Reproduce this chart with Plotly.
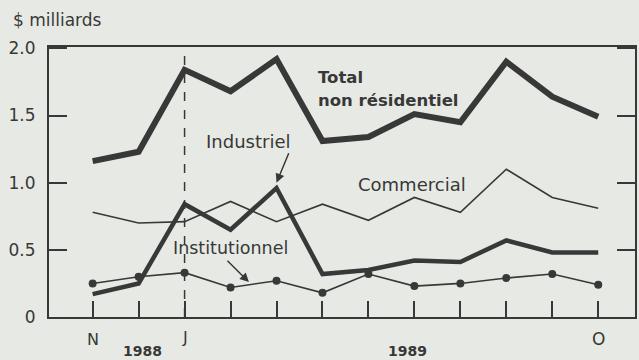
import plotly.graph_objects as go

# Monthly values, November 1988 to October 1989 ($ billions)
months = ["N", "D", "J", "F", "M", "A", "M", "J", "J", "A", "S", "O"]
total_non_res = [1.16, 1.23, 1.84, 1.68, 1.92, 1.31, 1.34, 1.51, 1.45, 1.90, 1.64, 1.49]
industriel = [0.17, 0.25, 0.84, 0.65, 0.96, 0.32, 0.35, 0.42, 0.41, 0.57, 0.48, 0.48]
commercial = [0.78, 0.70, 0.71, 0.86, 0.71, 0.84, 0.72, 0.89, 0.78, 1.10, 0.89, 0.81]
institutionnel = [0.25, 0.30, 0.33, 0.22, 0.27, 0.18, 0.32, 0.23, 0.25, 0.29, 0.32, 0.24]
y_ticks = [0, 0.5, 1.0, 1.5, 2.0]
y_tick_text = ["0", "0.5", "1.0", "1.5", "2.0"]

x = list(range(len(months)))
ink = "#383838"
bg = "#e7eae4"
font = "DejaVu Sans, Verdana, sans-serif"

fig = go.Figure()
fig.add_trace(go.Scatter(x=x, y=commercial, mode="lines",
                         line=dict(color=ink, width=1.6)))
fig.add_trace(go.Scatter(x=x, y=institutionnel, mode="lines+markers",
                         line=dict(color=ink, width=1.6),
                         marker=dict(color=ink, size=8)))
fig.add_trace(go.Scatter(x=x, y=industriel, mode="lines",
                         line=dict(color=ink, width=4.5)))
fig.add_trace(go.Scatter(x=x, y=total_non_res, mode="lines",
                         line=dict(color=ink, width=6)))

# Dashed marker at the start of 1989
fig.add_shape(type="line", x0=2, x1=2, y0=0, y1=1, yref="paper",
              line=dict(color=ink, width=1.5, dash="dash"))

# Series labels placed in data coordinates
annots = [
    dict(x=4.86, y=1.78, text="<b>Total</b>", size=16.5),
    dict(x=4.86, y=1.615, text="<b>non résidentiel</b>", size=16.5),
    dict(x=2.42, y=1.31, text="Industriel", size=18),
    dict(x=5.72, y=0.985, text="Commercial", size=18),
    dict(x=1.70, y=0.51, text="Institutionnel", size=17.5),
]
for a in annots:
    fig.add_annotation(x=a["x"], y=a["y"], xref="x", yref="y", text=a["text"],
                       xanchor="left", yanchor="middle", showarrow=False,
                       font=dict(family=font, color=ink, size=a["size"]))

# Month initials and years under the axis
below = [
    dict(x=0, text="N", shift=-22, size=16),
    dict(x=2, text="J", shift=-20, size=16),
    dict(x=11, text="O", shift=-22, size=17),
    dict(x=1.08, text="<b>1988</b>", shift=-34, size=14),
    dict(x=6.85, text="<b>1989</b>", shift=-34, size=14),
]
for b in below:
    fig.add_annotation(x=b["x"], y=0, xref="x", yref="paper", text=b["text"],
                       xanchor="center", yanchor="middle", yshift=b["shift"],
                       showarrow=False,
                       font=dict(family=font, color=ink, size=b["size"]))

fig.add_annotation(x=0, y=1, xref="paper", yref="paper", text="$ milliards",
                   xanchor="left", yanchor="middle", xshift=-38, yshift=27,
                   showarrow=False, font=dict(family=font, color=ink, size=17))

# Pointer arrows for the two lower labels
fig.add_annotation(x=4.0, y=1.00, ax=4.28, ay=1.23, xref="x", yref="y",
                   axref="x", ayref="y", text="", showarrow=True,
                   arrowhead=2, arrowsize=1.2, arrowwidth=1.5, arrowcolor=ink)
fig.add_annotation(x=3.4, y=0.26, ax=2.9, ay=0.43, xref="x", yref="y",
                   axref="x", ayref="y", text="", showarrow=True,
                   arrowhead=2, arrowsize=1.2, arrowwidth=1.5, arrowcolor=ink)

fig.update_layout(
    width=639, height=360,
    margin=dict(l=49, r=2, t=47, b=43),
    paper_bgcolor=bg, plot_bgcolor=bg,
    showlegend=False,
    font=dict(family=font, color=ink),
    xaxis=dict(range=[-0.95, 11.8], tickvals=x, ticktext=[""] * len(x),
               ticks="inside", ticklen=16, tickwidth=1.5, tickcolor=ink,
               showline=True, linecolor=ink, linewidth=2, mirror=True,
               showgrid=False, zeroline=False, fixedrange=True),
    yaxis=dict(range=[0, 2.01], tickvals=y_ticks, ticktext=y_tick_text,
               ticks="inside", ticklen=18, tickwidth=1.5, tickcolor=ink,
               showline=True, linecolor=ink, linewidth=2, mirror="ticks",
               showgrid=False, zeroline=False, ticklabelstandoff=8,
               tickfont=dict(size=17, color=ink), fixedrange=True),
)

fig.write_html("out.html")
